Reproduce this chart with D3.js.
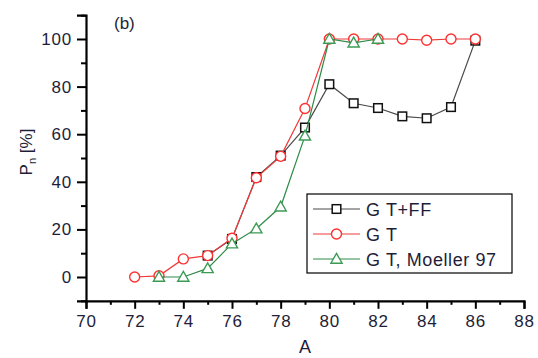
<!DOCTYPE html>
<html>
<head>
<meta charset="utf-8">
<script src="https://cdn.jsdelivr.net/npm/d3@7/dist/d3.min.js"></script>
<style>
  html, body { margin: 0; padding: 0; background: #fff; }
  svg { display: block; font-family: "Liberation Sans", Arial, sans-serif; }
</style>
</head>
<body>
<svg id="chart" width="538" height="358"></svg>
<script>
// Mass number A and P_n (%) for each calculation
const aGTFF = [75, 76, 77, 78, 79, 80, 81, 82, 83, 84, 85, 86];
const pGTFF = [9, 16, 42, 51, 62.8, 81, 73, 71, 67.5, 66.7, 71.4, 99.3];

const aGT = [72, 73, 74, 75, 76, 77, 78, 79, 80, 81, 82, 83, 84, 85, 86];
const pGT = [0, 0.5, 7.6, 9, 16.3, 41.7, 50.7, 70.8, 100, 100, 100, 100, 99.5, 100, 100];

const aMoeller = [73, 74, 75, 76, 77, 78, 79, 80, 81, 82];
const pMoeller = [0, 0, 3.6, 14, 20.3, 29.5, 59.3, 100, 98.4, 100];

const xTicks = [70, 72, 74, 76, 78, 80, 82, 84, 86, 88];
const yTicks = [0, 20, 40, 60, 80, 100];
const legendLabels = ["G T+FF", "G T", "G T, Moeller 97"];

const svg = d3.select("#chart");
const textColor = "#1e1e38";

const x = d3.scaleLinear().domain([70, 88]).range([86, 524]);
const y = d3.scaleLinear().domain([-10, 110]).range([300.8, 15.2]);

// Axes: major ticks with labels, minor ticks in between
const xAxis = d3.axisBottom(x).tickValues(xTicks).tickSize(8).tickPadding(6).tickFormat(d3.format("d"));
const xMinor = d3.axisBottom(x).tickValues(d3.range(71, 88, 2)).tickSize(4).tickFormat("");
const yAxis = d3.axisLeft(y).tickValues(yTicks).tickSize(9).tickPadding(5).tickFormat(d3.format("d"));
const yMinor = d3.axisLeft(y).tickValues(d3.range(-10, 111, 20)).tickSize(5).tickFormat("");

function styleAxis(g) {
  g.select(".domain").attr("stroke", "#000").attr("stroke-width", 2.2);
  g.selectAll(".tick line").attr("stroke", "#000").attr("stroke-width", 2);
  g.selectAll(".tick text").attr("fill", textColor).style("font-size", "17px")
    .style("letter-spacing", "0.8px").style("font-family", "'Liberation Sans', Arial, sans-serif");
}

const gxMinor = svg.append("g").attr("transform", `translate(0,${y(-10)})`).call(xMinor);
styleAxis(gxMinor);
gxMinor.select(".domain").remove();
const gx = svg.append("g").attr("transform", `translate(0,${y(-10)})`).call(xAxis);
styleAxis(gx);

const gyMinor = svg.append("g").attr("transform", `translate(${x(70)},0)`).call(yMinor);
styleAxis(gyMinor);
gyMinor.select(".domain").remove();
const gy = svg.append("g").attr("transform", `translate(${x(70)},0)`).call(yAxis);
styleAxis(gy);

// Axis titles
svg.append("text").attr("x", 305).attr("y", 353).attr("text-anchor", "middle")
  .attr("fill", textColor).style("font-size", "18px").text("A");

const yl = svg.append("text").attr("transform", "translate(32,152) rotate(-90)")
  .attr("text-anchor", "middle").attr("fill", textColor).style("font-size", "17px");
yl.append("tspan").text("P");
yl.append("tspan").attr("dy", 4).style("font-size", "11px").text("n");
yl.append("tspan").attr("dy", -4).text(" [%]");

svg.append("text").attr("x", 114).attr("y", 29).attr("fill", textColor)
  .style("font-size", "17px").text("(b)");

// Series drawing
const line = d3.line().x(d => x(d[0])).y(d => y(d[1]));

function squareMark(g, cx, cy, color) {
  g.append("rect").attr("x", cx - 4.3).attr("y", cy - 4.3).attr("width", 8.6).attr("height", 8.6)
    .attr("fill", "#fff").attr("stroke", color).attr("stroke-width", 1.5);
}
function circleMark(g, cx, cy, color) {
  g.append("circle").attr("cx", cx).attr("cy", cy).attr("r", 5)
    .attr("fill", "#fff").attr("stroke", color).attr("stroke-width", 1.4);
}
function triangleMark(g, cx, cy, color) {
  const s = 5.6;
  g.append("path").attr("d", `M${cx},${cy - s}L${cx + s},${cy + s * 0.75}L${cx - s},${cy + s * 0.75}Z`)
    .attr("fill", "#fff").attr("stroke", color).attr("stroke-width", 1.4);
}

const series = [
  { xs: aGTFF, ys: pGTFF, line: "#4a4a4a", mark: "#111", shape: squareMark },
  { xs: aGT, ys: pGT, line: "#f03a3a", mark: "#ff3030", shape: circleMark },
  { xs: aMoeller, ys: pMoeller, line: "#2e8b48", mark: "#3d9a55", shape: triangleMark }
];

series.forEach(s => {
  const pts = s.xs.map((a, i) => [a, s.ys[i]]);
  const g = svg.append("g");
  g.append("path").datum(pts).attr("d", line).attr("fill", "none")
    .attr("stroke", s.line).attr("stroke-width", 1.2);
  pts.forEach(p => s.shape(g, x(p[0]), y(p[1]), s.mark));
});

// Legend
const lg = svg.append("g");
lg.append("rect").attr("x", 307).attr("y", 194).attr("width", 205).attr("height", 79)
  .attr("fill", "#fff").attr("stroke", "#000").attr("stroke-width", 1.2);
series.forEach((s, i) => {
  const ly = 209 + i * 25;
  lg.append("line").attr("x1", 313).attr("x2", 360).attr("y1", ly).attr("y2", ly)
    .attr("stroke", s.line).attr("stroke-width", 1.2);
  s.shape(lg, 336.5, ly, s.mark);
  lg.append("text").attr("x", 366).attr("y", ly + 6.5).attr("fill", textColor)
    .style("font-size", "18px").style("letter-spacing", "0.6px").text(legendLabels[i]);
});
</script>
</body>
</html>
